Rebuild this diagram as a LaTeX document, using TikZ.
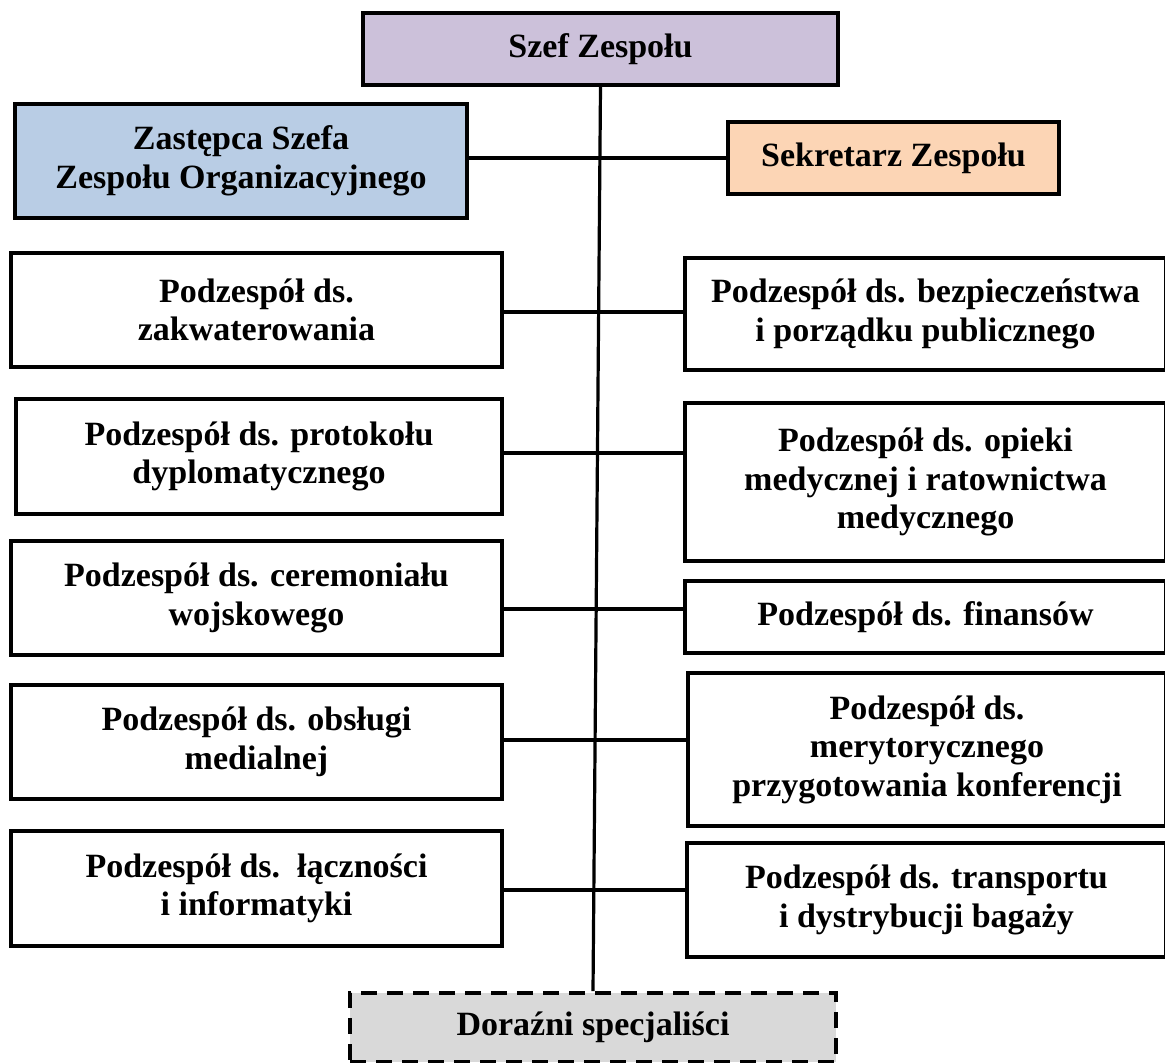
\documentclass[tikz,border=0pt]{standalone}
\usepackage{fontspec}
\setmainfont{Liberation Serif}
\definecolor{lav}{HTML}{CCC1DA}
\definecolor{lblue}{HTML}{B9CDE5}
\definecolor{peach}{HTML}{FCD5B5}
\definecolor{lgray}{HTML}{D9D9D9}
\begin{document}
\begin{tikzpicture}[x=1pt,y=-1pt,
  box/.style={draw, line width=3.6pt, align=center, inner sep=0pt,
    font=\bfseries\fontsize{34}{38.5}\selectfont},
  conn/.style={draw, line width=3.2pt}]
\useasboundingbox (0,0) rectangle (1165,1063);

\node[box, fill=lav, minimum width=475pt, minimum height=72pt] (szef) at (600.5,49) {Szef Zespołu};
\node[box, fill=lblue, minimum width=452pt, minimum height=114pt] (zast) at (241,161) {Zastępca Szefa\\Zespołu Organizacyjnego};
\node[box, fill=peach, minimum width=331pt, minimum height=72pt] (sek) at (893.5,158) {Sekretarz Zespołu};

\node[box, minimum width=491pt, minimum height=114pt] (l1) at (256.5,310) {Podzespół ds.\\zakwaterowania};
\node[box, minimum width=486pt, minimum height=115pt] (l2) at (259,456.5) {Podzespół ds. protokołu\\dyplomatycznego};
\node[box, minimum width=491pt, minimum height=114pt] (l3) at (256.5,598) {Podzespół ds. ceremoniału\\wojskowego};
\node[box, minimum width=491pt, minimum height=114pt] (l4) at (256.5,742) {Podzespół ds. obsługi\\medialnej};
\node[box, minimum width=491pt, minimum height=115pt] (l5) at (256.5,888.5) {Podzespół ds.~~łączności\\i informatyki};

\node[box, minimum width=481pt, minimum height=112pt] (r1) at (925.5,314) {Podzespół ds. bezpieczeństwa\\i porządku publicznego};
\node[box, minimum width=481pt, minimum height=158pt] (r2) at (925.5,482) {Podzespół ds. opieki\\medycznej i ratownictwa\\medycznego};
\node[box, minimum width=481pt, minimum height=72pt] (r3) at (925.5,617) {Podzespół ds. finansów};
\node[box, minimum width=478pt, minimum height=153pt] (r4) at (927,749.5) {Podzespół ds.\\merytorycznego\\przygotowania konferencji};
\node[box, minimum width=479pt, minimum height=114pt] (r5) at (926.5,900) {Podzespół ds. transportu\\i dystrybucji bagaży};

\node[box, fill=lgray, dash pattern=on 16pt off 10pt, minimum width=486pt, minimum height=69pt] (dor) at (593,1027.5) {Doraźni specjaliści};

\coordinate (j0) at (0,158);
\coordinate (j1) at (0,312);
\coordinate (j2) at (0,453);
\coordinate (j3) at (0,609);
\coordinate (j4) at (0,740);
\coordinate (j5) at (0,890);

\draw[conn] (szef.south) -- (dor.north);
\draw[conn] (zast.east |- j0) -- (sek.west |- j0);
\draw[conn] (l1.east |- j1) -- (r1.west |- j1);
\draw[conn] (l2.east |- j2) -- (r2.west |- j2);
\draw[conn] (l3.east |- j3) -- (r3.west |- j3);
\draw[conn] (l4.east |- j4) -- (r4.west |- j4);
\draw[conn] (l5.east |- j5) -- (r5.west |- j5);
\end{tikzpicture}
\end{document}
